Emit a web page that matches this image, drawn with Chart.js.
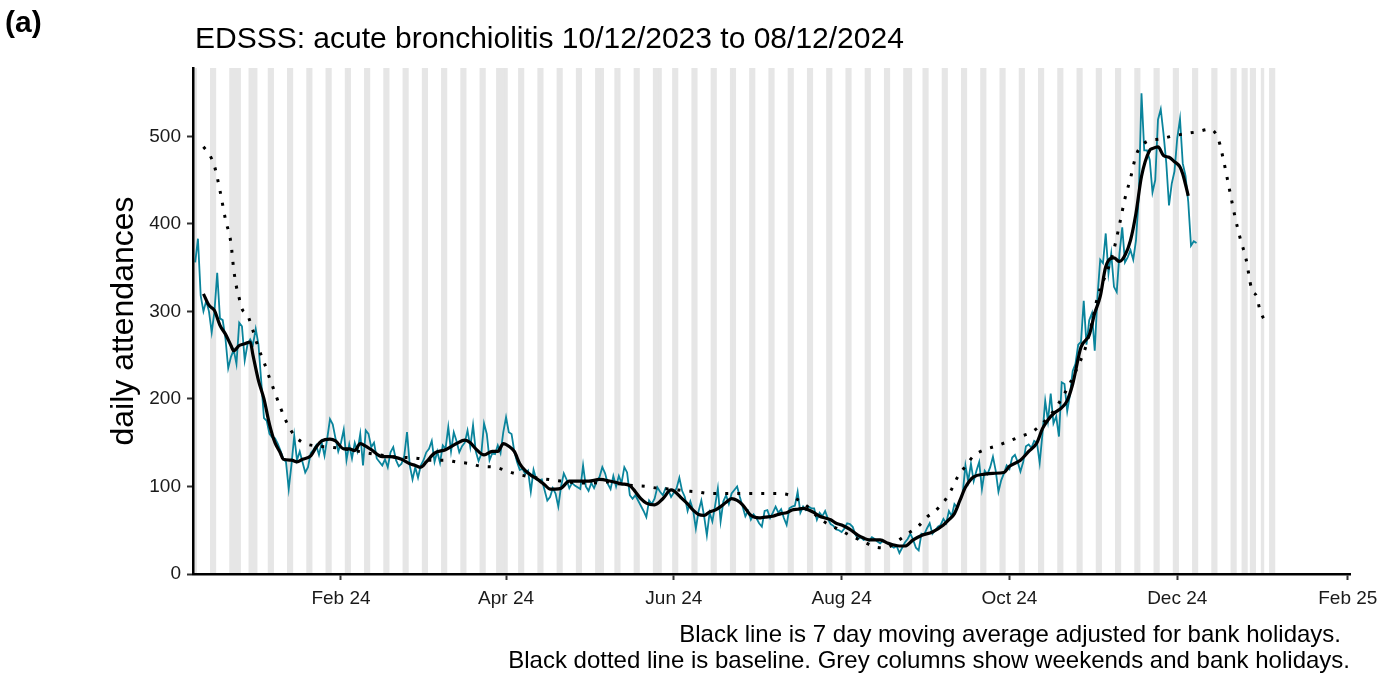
<!DOCTYPE html>
<html>
<head>
<meta charset="utf-8">
<script src="https://cdn.jsdelivr.net/npm/chart.js@4.4.1/dist/chart.umd.min.js"></script>
<style>
  html, body { margin: 0; padding: 0; background: #fff; }
  body { width: 1387px; height: 675px; position: relative; overflow: hidden;
         font-family: "Liberation Sans", Arial, sans-serif; color: #000; }
  #wrap { position: absolute; left: 0; top: 0; width: 1387px; height: 675px; }
  .txt { position: absolute; white-space: nowrap; line-height: 1; }
  #panel { left: 5px; top: 7px; font-size: 30px; font-weight: bold; }
  #title { left: 195px; top: 23px; font-size: 30px; }
  #foot1 { right: 46px; top: 622px; font-size: 24px; text-align: right; }
  #foot2 { right: 37px; top: 648px; font-size: 24px; text-align: right; }
</style>
</head>
<body>
<div id="wrap"><canvas id="chart" width="1387" height="675"></canvas></div>
<div class="txt" id="panel">(a)</div>
<div class="txt" id="title">EDSSS: acute bronchiolitis 10/12/2023 to 08/12/2024</div>
<div class="txt" id="foot1">Black line is 7 day moving average adjusted for bank holidays.</div>
<div class="txt" id="foot2">Black dotted line is baseline. Grey columns show weekends and bank holidays.</div>
<script>
// day 0 = Sun 10 Dec 2023
const startDate = new Date(2023, 11, 10);

// daily attendances, 10/12/2023 .. 08/12/2024
const attendances = [
  356, 383, 318, 300, 312, 300, 276,
  300, 344, 292, 290, 269, 235, 248,
  256, 240, 287, 283, 244, 262, 268,
  262, 280, 262, 220, 178, 175, 160,
  156, 155, 149, 141, 132, 128, 97,
  125, 158, 130, 140, 128, 116, 122,
  138, 142, 147, 136, 150, 135, 155,
  177, 171, 155, 140, 150, 165, 130,
  148, 132, 150, 140, 160, 124, 164,
  160, 145, 150, 132, 128, 124, 131,
  122, 139, 145, 130, 123, 126, 135,
  162, 124, 108, 122, 110, 124, 130,
  139, 143, 152, 128, 140, 127, 147,
  143, 168, 140, 162, 152, 139, 146,
  150, 164, 145, 170, 140, 129, 137,
  172, 160, 130, 138, 137, 147, 138,
  162, 179, 162, 160, 140, 128, 119,
  120, 114, 118, 94, 119, 108, 107,
  108, 96, 84, 88, 98, 92, 77,
  100, 115, 108, 98, 104, 101, 99,
  97, 124, 100, 95, 104, 98, 106,
  111, 122, 115, 103, 97, 112, 100,
  112, 104, 122, 116, 90, 86, 90,
  84, 78, 72, 65, 84, 80, 86,
  99, 94, 90, 98, 96, 88, 93,
  98, 110, 95, 88, 72, 83, 73,
  52, 72, 84, 66, 44, 70, 60,
  78, 98, 60, 83, 90, 80, 92,
  96, 100, 88, 77, 66, 72, 62,
  68, 64, 58, 54, 72, 73, 64,
  70, 77, 70, 74, 64, 56, 75,
  77, 78, 94, 70, 77, 73, 77,
  75, 75, 62, 70, 66, 72, 63,
  57, 55, 51, 50, 48, 52, 58,
  57, 54, 45, 40, 42, 39, 40,
  38, 42, 40, 37, 35, 38, 36,
  35, 32, 30, 32, 24, 30, 36,
  40, 46, 39, 30, 27, 46, 45,
  52, 58, 46, 50, 54, 56, 63,
  58, 72, 66, 80, 76, 84, 92,
  124, 106, 126, 106, 118, 128, 97,
  118, 114, 122, 134, 118, 94, 107,
  115, 124, 120, 133, 136, 128, 117,
  128, 146, 148, 144, 152, 150, 127,
  160, 198, 175, 206, 172, 180, 157,
  219, 217, 186, 205, 232, 240, 262,
  265, 312, 262, 290, 298, 255, 317,
  359, 355, 389, 343, 366, 328, 322,
  366, 396, 356, 362, 370, 359, 381,
  430, 549, 484, 484, 473, 436, 450,
  519, 531, 503, 470, 421, 446, 460,
  498, 520, 469, 455, 425, 375, 380,
  378
];

// 7 day moving average (day offset, value)
const maDays = [3, 5, 7, 9, 11, 13, 14, 16, 18, 20, 21, 23, 25, 27, 29, 31, 32, 35, 37, 39,
  42, 44, 46, 49, 51, 54, 56, 58, 60, 62, 64, 68, 71, 75, 78, 80, 82, 84, 87, 91,
  95, 98, 100, 102, 105, 108, 110, 112, 114, 116, 118, 120, 122, 125, 127, 129, 131, 133, 136, 140,
  143, 147, 151, 155, 158, 160, 162, 164, 167, 170, 173, 174, 177, 179, 181, 183, 185, 187, 189, 191,
  193, 195, 197, 199, 202, 205, 207, 210, 213, 215, 217, 219, 221, 223, 225, 227, 229, 231, 233, 235,
  238, 241, 243, 245, 249, 252, 256, 258, 261, 264, 268, 272, 274, 276, 278, 280, 283, 287, 290, 294,
  296, 300, 303, 306, 308, 310, 312, 315, 317, 319, 322, 325, 327, 329, 331, 334, 336, 338, 340, 342,
  344, 347, 348, 350, 352, 354, 356, 358, 359, 361];
const maValues = [320, 307, 301, 284, 274, 261, 255, 261, 263, 265, 250, 221, 200, 171, 150, 138, 131, 130, 128, 131,
  135, 145, 152, 154, 152, 143, 143, 141, 149, 146, 142, 134, 134, 131, 126, 124, 122, 128, 138, 142,
  149, 153, 150, 143, 136, 140, 140, 149, 146, 140, 126, 118, 113, 107, 102, 97, 97, 98, 106, 106,
  106, 108, 106, 103, 101, 94, 86, 81, 79, 86, 96, 95, 86, 80, 73, 68, 67, 71, 73, 77,
  82, 86, 84, 79, 67, 64, 65, 66, 69, 70, 73, 74, 75, 73, 70, 66, 64, 62, 58, 56,
  51, 44, 41, 39, 39, 35, 32, 32, 39, 44, 48, 56, 62, 69, 84, 99, 111, 114, 115, 116,
  123, 130, 140, 150, 166, 176, 183, 190, 198, 217, 259, 273, 298, 317, 351, 361, 357, 364, 381, 412,
  454, 484, 486, 488, 478, 476, 471, 465, 457, 432];

// baseline (day offset, value)
const baselineDays = [3, 5, 7, 9, 11, 13, 14, 15, 16, 17, 19, 21, 23, 25, 27, 29, 31, 33, 35, 37,
  40, 45, 49, 56, 63, 67, 72, 77, 81, 86, 91, 95, 100, 104, 109, 113, 117, 122, 126, 131,
  136, 141, 145, 150, 154, 159, 164, 168, 173, 178, 182, 187, 191, 196, 200, 205, 210, 215, 219, 223,
  226, 230, 234, 238, 243, 247, 251, 255, 259, 263, 266, 270, 273, 275, 277, 280, 283, 287, 291, 296,
  300, 304, 308, 312, 316, 320, 324, 326, 328, 332, 334, 336, 338, 340, 342, 344, 346, 351, 355, 360,
  364, 369, 372, 374, 376, 378, 380, 382, 384, 386, 387, 389];
const baselineValues = [488, 480, 466, 438, 405, 378, 348, 328, 315, 303, 296, 278, 258, 242, 224, 207, 190, 175, 163, 155,
  149, 146, 145, 142, 138, 136, 134, 133, 132, 130, 130, 128, 126, 123, 122, 118, 114, 111, 109, 107,
  105, 104, 104, 105, 103, 101, 100, 98, 97, 95, 94, 92, 92, 92, 92, 92, 92, 91, 85, 76,
  66, 57, 51, 44, 37, 31, 30, 37, 46, 55, 65, 75, 86, 97, 110, 123, 135, 142, 146, 152,
  157, 162, 172, 186, 206, 231, 262, 287, 316, 350, 371, 399, 429, 452, 478, 489, 494, 497, 500, 503,
  505, 508, 496, 470, 439, 408, 382, 360, 326, 316, 302, 288];

// bank holidays (day offsets): 25/12, 26/12, 01/01, Good Fri, Easter Mon, 06/05, 27/05, 26/08, 25/12, 26/12, 01/01
const bankHolidays = [15, 16, 22, 110, 113, 148, 169, 260, 381, 382, 388];
const columnLastDay = 392; // Sun 05/01/2025

const tickDays = [53, 113, 174, 235, 296, 357, 419];
const tickLabels = ['Feb 24', 'Apr 24', 'Jun 24', 'Aug 24', 'Oct 24', 'Dec 24', 'Feb 25'];
const yTicks = [0, 100, 200, 300, 400, 500];
const yMax = 578;

// weekends + bank holidays as full-height columns
const greyDays = [];
for (let d = 0; d <= columnLastDay; d++) {
  const wd = new Date(startDate.getFullYear(), startDate.getMonth(), startDate.getDate() + d).getDay();
  if (wd === 0 || wd === 6 || bankHolidays.includes(d)) greyDays.push(d);
}

const tickFont = { family: '"Liberation Sans", Arial, sans-serif', size: 19 };

new Chart(document.getElementById('chart'), {
  type: 'line',
  data: {
    datasets: [
      {
        type: 'bar',
        data: greyDays.map(d => ({ x: d, y: yMax })),
        backgroundColor: '#e6e6e6',
        borderWidth: 0,
        barPercentage: 1,
        categoryPercentage: 1,
        order: 4
      },
      {
        data: attendances.map((v, i) => ({ x: i, y: v })),
        borderColor: '#0a849c',
        borderWidth: 1.8,
        pointRadius: 0,
        tension: 0,
        order: 3
      },
      {
        data: baselineDays.map((d, i) => ({ x: d, y: baselineValues[i] })),
        borderColor: '#000',
        borderWidth: 3,
        borderDash: [3, 9],
        pointRadius: 0,
        cubicInterpolationMode: 'monotone',
        order: 2
      },
      {
        data: maDays.map((d, i) => ({ x: d, y: maValues[i] })),
        borderColor: '#000',
        borderWidth: 3.2,
        pointRadius: 0,
        cubicInterpolationMode: 'monotone',
        order: 1
      }
    ]
  },
  options: {
    responsive: false,
    animation: false,
    layout: { padding: { left: 103, right: 37, top: 68, bottom: 0 } },
    plugins: { legend: { display: false }, tooltip: { enabled: false } },
    scales: {
      x: {
        type: 'linear',
        min: -0.8,
        max: 419.8,
        offset: false,
        afterFit: s => { s.height = 101; },
        afterBuildTicks: s => { s.ticks = tickDays.map(v => ({ value: v })); },
        ticks: {
          autoSkip: false,
          maxRotation: 0,
          padding: 7,
          color: '#1a1a1a',
          font: tickFont,
          callback: v => tickLabels[tickDays.indexOf(v)]
        },
        grid: { offset: false, drawOnChartArea: false, drawTicks: true, tickLength: 6, tickWidth: 2, tickColor: '#333' },
        border: { display: true, color: '#000', width: 2.5, z: 1 }
      },
      y: {
        min: 0,
        max: yMax,
        afterFit: s => { s.width = 90; },
        afterBuildTicks: s => { s.ticks = yTicks.map(v => ({ value: v })); },
        ticks: { padding: 6, color: '#1a1a1a', font: tickFont },
        grid: { drawOnChartArea: false, drawTicks: true, tickLength: 6, tickWidth: 2, tickColor: '#333' },
        border: { display: true, color: '#000', width: 2.5, z: 1 },
        title: {
          display: true,
          text: 'daily attendances',
          color: '#000',
          font: { family: '"Liberation Sans", Arial, sans-serif', size: 32 },
          padding: { top: 2, bottom: 4 }
        }
      }
    }
  }
});
</script>
</body>
</html>
